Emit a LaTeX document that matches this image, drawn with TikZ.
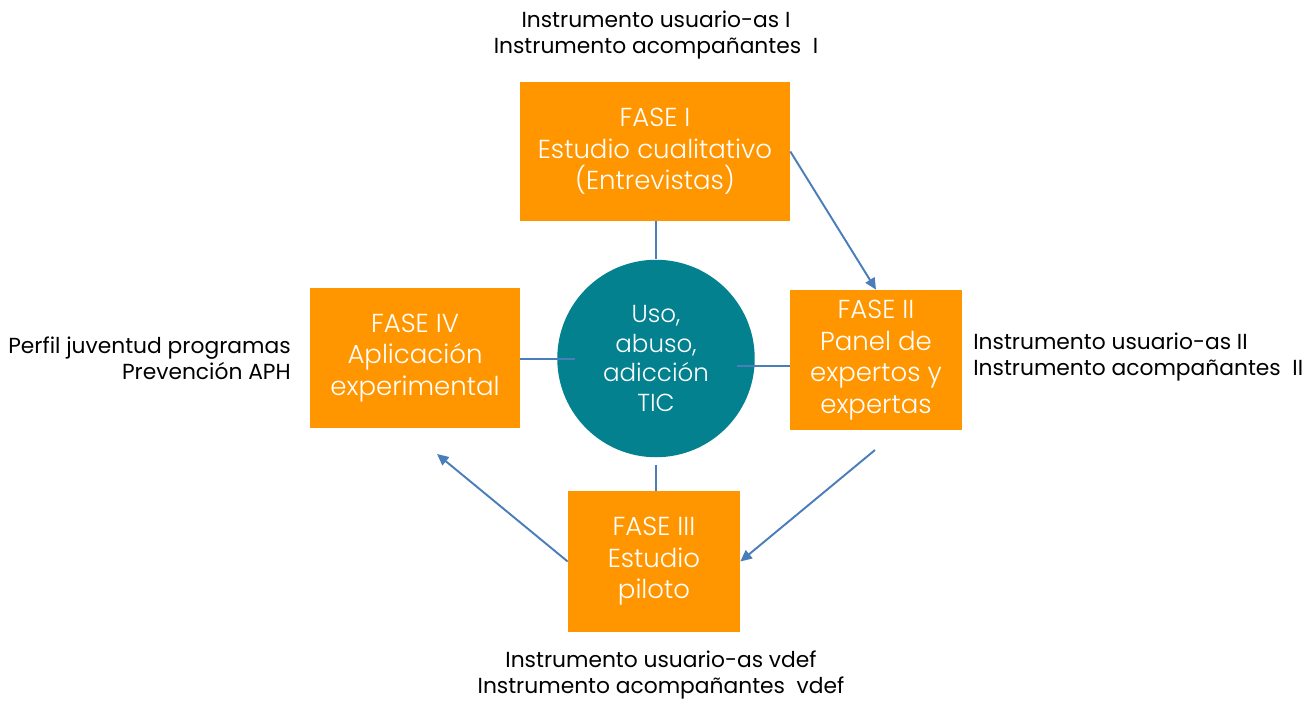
\documentclass[tikz,border=0pt]{standalone}
\usepackage{fontspec}
\setmainfont{Poppins}
\newfontfamily\lightfont{Poppins Light}
\usetikzlibrary{arrows.meta,positioning}
\definecolor{faseorange}{HTML}{FF9600}
\definecolor{ticteal}{HTML}{04818F}
\definecolor{linkblue}{HTML}{4A7EBB}
\tikzset{
fase/.style = {fill=faseorange, rectangle, inner sep=0pt, text=white, align=center, font=\lightfont\fontsize{14.8}{17.9}\selectfont},
core/.style = {fill=ticteal, circle, inner sep=0pt, minimum size=3.95cm, text=white, align=center, font=\lightfont\fontsize{14}{17}\selectfont},
note/.style = {inner sep=0pt, font=\fontsize{12.4}{14.7}\selectfont},
link/.style = {draw=linkblue, line width=1.1pt},
flow/.style = {link, -{Triangle[length=2.3mm,width=2.1mm]}}
}
\begin{document}
\begin{tikzpicture}[x=0.02cm, y=-0.02cm]
    \useasboundingbox (0,0) rectangle (1307,702);
    % fases and centre
    \node [fase, minimum width=5.4cm, minimum height=2.78cm] (fase1) at (655,151.5) {FASE I\\Estudio cualitativo\\(Entrevistas)};
    \node [fase, minimum width=3.44cm, minimum height=2.8cm] (fase2) at (876,360) {FASE II\\Panel de\\expertos y\\expertas};
    \node [fase, minimum width=3.44cm, minimum height=2.82cm] (fase3) at (654,561.5) {FASE III\\Estudio\\piloto};
    \node [fase, minimum width=4.2cm, minimum height=2.8cm] (fase4) at (415,358) {FASE IV\\Aplicación\\experimental};
    \node [core] (uso) at (656,358.5) {Uso,\\abuso,\\adicción\\TIC};
    % instruments
    \node [note, align=center] (inst1) at (656,35) {Instrumento usuario-as I\\Instrumento acompañantes~ I};
    \node [note, align=left, anchor=west] (inst2) at (973,357) {Instrumento usuario-as II\\Instrumento acompañantes~ II};
    \node [note, align=center] (inst3) at (661,675) {Instrumento usuario-as vdef\\Instrumento acompañantes~ vdef};
    \node [note, align=right, anchor=east] (inst4) at (291,358) {Perfil juventud programas\\Prevención APH};
    % free ends
    \coordinate (inL) at (575,359);
    \coordinate (inR) at (737,366);
    \coordinate (fromII) at (875,450);
    \coordinate (toIV) at (437,454);
    % connectors
    \draw [link] (uso.north |- fase1.south) -- (uso.north);
    \draw [link] ([yshift=-4pt]uso.south) -- (uso.south |- fase3.north);
    \draw [link] (fase4.east |- inL) -- (inL);
    \draw [link] (inR) -- (inR -| fase2.west);
    \draw [flow] (fase1.east) -- (fase2.north);
    \draw [flow] (fromII) -- (fase3.east);
    \draw [flow] (fase3.west) -- (toIV);
\end{tikzpicture}
\end{document}
